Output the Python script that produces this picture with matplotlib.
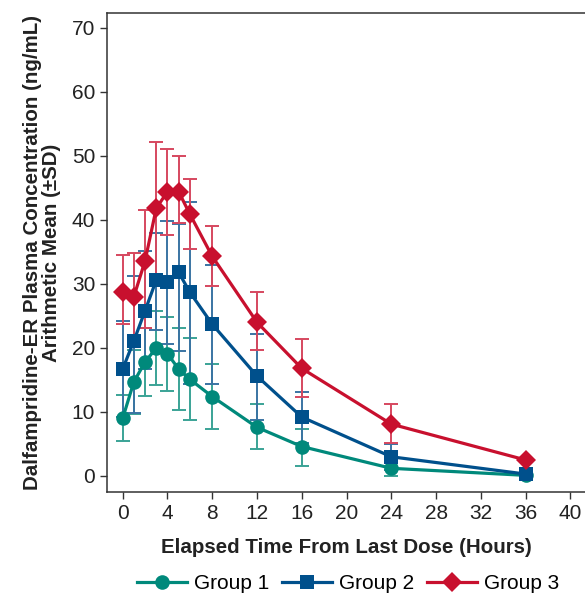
import numpy as np
import matplotlib
matplotlib.use("Agg")
import matplotlib.pyplot as plt

plt.rcParams['font.family'] = ['Liberation Sans', 'DejaVu Sans']

# sampling times (hours after last dose)
hours = [0, 1, 2, 3, 4, 5, 6, 8, 12, 16, 24, 36]

# Group 1
g1_mean = [9.0, 14.7, 17.8, 20.0, 19.1, 16.7, 15.1, 12.4, 7.6, 4.6, 1.2, 0.1]
g1_lo = [3.6, 5.0, 5.3, 5.8, 5.8, 6.4, 6.3, 5.1, 3.4, 3.1, 1.2, 0.1]
g1_hi = [3.6, 5.0, 5.3, 5.7, 5.7, 6.4, 6.5, 5.1, 3.6, 2.8, 1.1, 0.2]

# Group 2
g2_mean = [16.7, 21.1, 25.8, 30.6, 30.3, 31.8, 28.7, 23.7, 15.6, 9.2, 3.0, 0.3]
g2_lo = [7.5, 11.2, 9.1, 7.8, 9.7, 12.3, 14.4, 9.4, 6.9, 4.1, 2.0, 0.2]
g2_hi = [7.5, 10.2, 9.4, 7.3, 9.5, 7.5, 14.1, 9.3, 6.5, 3.9, 2.0, 0.2]

# Group 3
g3_mean = [28.8, 28.0, 33.6, 41.8, 44.4, 44.4, 40.9, 34.3, 24.0, 16.8, 8.1, 2.5]
g3_lo = [5.1, 6.5, 10.5, 10.2, 6.8, 4.9, 5.4, 4.6, 4.4, 4.4, 2.9, 0.0]
g3_hi = [5.7, 6.8, 8.0, 10.4, 6.7, 5.5, 5.5, 4.8, 4.8, 4.6, 3.1, 0.0]

groups = [
    ("Group 1", g1_mean, g1_lo, g1_hi, "#00897b", "#3aa396", "o", 10.5),
    ("Group 2", g2_mean, g2_lo, g2_hi, "#00508c", "#3a74a3", "s", 9.5),
    ("Group 3", g3_mean, g3_lo, g3_hi, "#c8102e", "#d6485f", "D", 10),
]

fig = plt.figure(figsize=(5.85, 5.93), dpi=100)
ax = fig.add_axes([107/585, 101/593, 478/585, 479/593])

# error bars first, lines and markers on top
for label, mean, lo, hi, col, ecol, mk, ms in groups:
    ax.errorbar(hours, mean, yerr=[lo, hi], fmt='none', ecolor=ecol,
                elinewidth=1.4, capsize=5, capthick=1.4, zorder=2)

handles = []
for label, mean, lo, hi, col, ecol, mk, ms in groups:
    ln, = ax.plot(hours, mean, color=col, lw=2.3, marker=mk, markersize=ms,
                  markeredgewidth=0, label=label, zorder=3)
    handles.append(ln)

ax.set_xlim(-1.4, 41.3)
ax.set_ylim(-2.5, 72.3)
ax.set_xticks(np.arange(0, 41, 4))
ax.set_yticks(np.arange(0, 71, 10))

ax.spines['right'].set_visible(False)
for s in ['left', 'top', 'bottom']:
    ax.spines[s].set_color('#333333')
    ax.spines[s].set_linewidth(1.1)
ax.tick_params(direction='out', length=5, width=1.0, color='#333333',
               labelsize=15, pad=3.5, labelcolor='#222222')

ax.set_xlabel("Elapsed Time From Last Dose (Hours)", fontsize=14.8,
              fontweight='bold', color='#222222', labelpad=11)
ax.set_ylabel("Dalfampridine-ER Plasma Concentration (ng/mL)\nArithmetic Mean (\u00b1SD)",
              fontsize=14.8, fontweight='bold', color='#222222', labelpad=8,
              linespacing=1.0)

fig.legend(handles=handles, loc='center', bbox_to_anchor=(0.595, 0.016),
           ncol=3, frameon=False, fontsize=15, handlelength=2.4,
           columnspacing=0.6, handletextpad=0.35, borderaxespad=0)

fig.savefig("out.png", dpi=100)
